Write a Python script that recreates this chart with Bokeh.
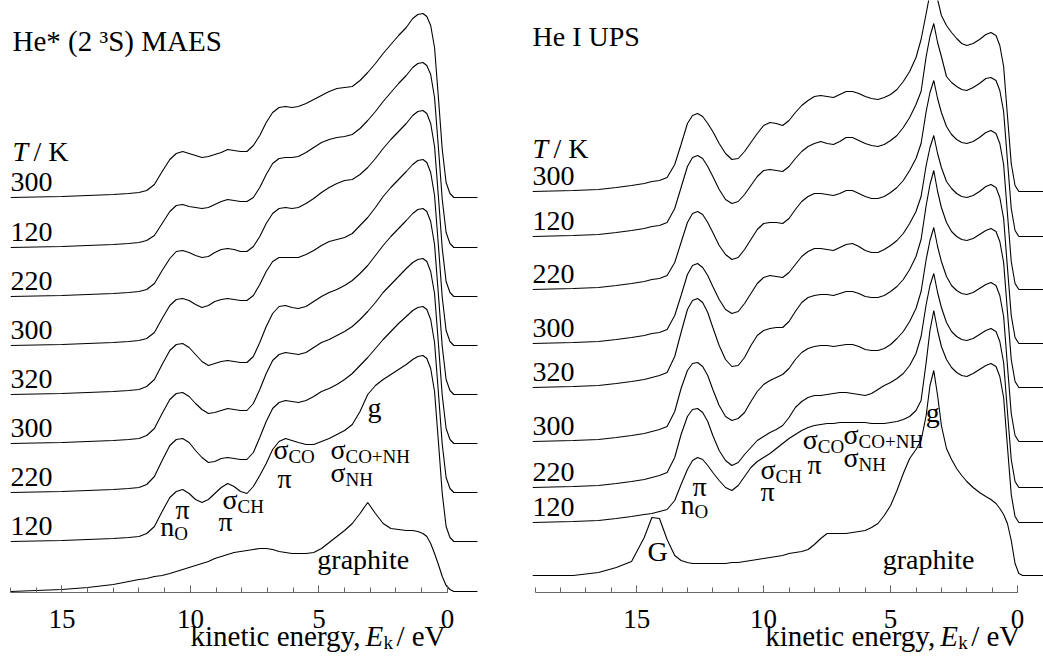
from bokeh.plotting import figure
from bokeh.layouts import row, column
from bokeh.models import Range1d, FixedTicker, Label
from bokeh.embed import file_html
from bokeh.resources import INLINE

FONT = "Liberation Serif"

# ---------------- He* (2 3S) MAES panel ----------------
MAES_E = [17.0, 15.0, 14.0, 13.0,
          12.4, 12.0, 11.7, 11.4, 11.1,
          10.8, 10.55, 10.3, 10.05,
          9.8, 9.55, 9.3, 9.05,
          8.8, 8.55, 8.3, 8.05,
          7.8, 7.55, 7.3, 7.05,
          6.8, 6.55, 6.3, 6.05,
          5.8, 5.5, 5.2, 4.9,
          4.6, 4.3, 4.0, 3.7,
          3.4, 3.1, 2.8, 2.5,
          2.2, 1.9, 1.6, 1.35,
          1.15, 0.95, 0.8, 0.65,
          0.5, 0.35, 0.2, 0.05,
          -0.1, -0.25, -0.5, -1.17]

MAES_T = ["300", "120", "220", "300", "320", "300", "220", "120"]
MAES_BASE = [395, 345, 296, 247, 198, 149, 100, 51]
MAES_GRAPHITE_BASE = 1

maes_1 = [0, 1, 2, 3, 4, 5, 7, 13, 26, 38, 44, 46, 44, 42, 40, 41, 43, 45, 48, 47, 46,
          46, 52, 62, 75, 85, 90, 91, 90, 91, 94, 98, 102, 106, 109, 110, 111,
          117, 125, 134, 144, 153, 162, 170, 179, 183, 184, 181, 172, 150, 100, 48, 15, 4, 0, 0, 0]
maes_2 = [0, 1, 2, 3, 4, 5, 7, 12, 24, 36, 42, 43, 41, 40, 39, 40, 43, 46, 48, 47, 46,
          46, 50, 60, 73, 84, 89, 90, 90, 91, 95, 100, 105, 108, 110, 111, 113,
          119, 127, 136, 146, 155, 164, 172, 180, 184, 185, 182, 173, 150, 100, 48, 15, 4, 0, 0, 0]
maes_3 = [0, 1, 2, 3, 4, 5, 7, 13, 26, 38, 45, 46, 44, 41, 39, 40, 44, 47, 48, 47, 45,
          45, 50, 60, 73, 83, 88, 89, 88, 89, 93, 98, 104, 109, 113, 116, 117,
          122, 129, 138, 148, 157, 165, 173, 181, 185, 186, 183, 173, 150, 100, 48, 15, 4, 0, 0, 0]
maes_4 = [0, 1, 2, 3, 4, 5, 7, 13, 27, 40, 46, 47, 45, 41, 38, 40, 44, 46, 47, 46, 45,
          45, 50, 61, 74, 84, 88, 88, 88, 88, 91, 95, 100, 104, 106, 108, 112,
          120, 128, 138, 149, 158, 166, 174, 181, 185, 186, 183, 173, 150, 100, 48, 15, 4, 0, 0, 0]
maes_5 = [0, 1, 2, 3, 4, 5, 8, 15, 30, 44, 50, 51, 47, 40, 33, 29, 31, 33, 34, 33, 32,
          32, 38, 52, 68, 81, 88, 89, 87, 86, 88, 93, 98, 102, 105, 109, 114,
          121, 129, 139, 149, 158, 166, 174, 181, 185, 186, 183, 173, 150, 100, 48, 15, 4, 0, 0, 0]
maes_6 = [0, 1, 2, 3, 4, 5, 8, 15, 30, 44, 50, 51, 47, 40, 34, 30, 31, 33, 35, 34, 33,
          33, 40, 54, 70, 83, 89, 91, 90, 89, 91, 96, 101, 104, 108, 112, 117,
          124, 132, 141, 151, 159, 167, 175, 181, 184, 185, 182, 172, 150, 100, 48, 15, 4, 0, 0, 0]
maes_7 = [0, 1, 2, 3, 4, 5, 8, 16, 32, 47, 53, 54, 50, 42, 35, 30, 31, 34, 35, 34, 33,
          33, 40, 55, 71, 84, 90, 92, 91, 90, 92, 96, 101, 104, 108, 113, 119,
          127, 135, 144, 153, 161, 169, 176, 182, 185, 186, 183, 173, 150, 100, 48, 15, 4, 0, 0, 0]
maes_8 = [0, 1, 2, 3, 4, 5, 8, 15, 30, 44, 50, 52, 48, 42, 39, 42, 48, 54, 58, 55, 50,
          48, 55, 66, 78, 92, 100, 103, 101, 99, 97, 97, 100, 103, 107, 111, 117,
          130, 147, 156, 162, 167, 172, 177, 182, 185, 186, 183, 173, 150, 100, 48, 15, 4, 0, 0, 0]
maes_graphite = [0, 2, 4, 7, 10, 12, 13, 15, 16, 18, 20, 22, 24, 26, 28, 30, 33, 35, 37, 39, 40,
                 41, 42, 43, 43, 42, 40, 39, 38, 38, 38, 39, 43, 49, 55, 61, 68,
                 78, 89, 78, 68, 63, 62, 61, 61, 60, 58, 55, 48, 38, 27, 15, 6, 2, 0, 0, 0]
MAES_SPECTRA = [maes_1, maes_2, maes_3, maes_4, maes_5, maes_6, maes_7, maes_8]

# ---------------- He I UPS panel ----------------
UPS_E = [19.1, 17.5, 16.5, 15.8,
         15.2, 14.7, 14.4, 14.1,
         13.8, 13.5, 13.25, 13.0,
         12.8, 12.6, 12.4, 12.2,
         12.0, 11.75, 11.5, 11.25,
         11.0, 10.75, 10.5, 10.25,
         10.0, 9.75, 9.5, 9.25,
         9.0, 8.75, 8.5, 8.25,
         8.0, 7.75, 7.5, 7.25,
         7.0, 6.75, 6.5, 6.25,
         6.0, 5.75, 5.5, 5.25,
         5.0, 4.75, 4.5, 4.25,
         4.0, 3.8, 3.6, 3.45,
         3.3, 3.15, 3.0, 2.8,
         2.6, 2.4, 2.2, 2.0,
         1.75, 1.5, 1.25, 1.05,
         0.85, 0.7, 0.55, 0.4,
         0.25, 0.1, -0.05, -0.2,
         -1.02]

UPS_T = ["300", "120", "220", "300", "320", "300", "220", "120"]
UPS_BASE = [401, 356, 303, 249, 205, 151, 105, 70]
UPS_GRAPHITE_BASE = 17

ups_1 = [0, 1, 2, 4, 6, 8, 10, 11, 14, 27, 47, 68, 76, 78, 75, 68, 60, 48, 38, 32,
         33, 40, 49, 58, 66, 69, 68, 66, 71, 79, 86, 91, 95, 96, 95, 94, 97, 100, 100, 98,
         95, 93, 92, 94, 97, 102, 110, 120, 134, 152, 178, 198, 212, 192, 176, 166,
         159, 153, 148, 146, 148, 152, 157, 159, 156, 146, 125, 76, 28, 6, 0, 0, 0]
ups_2 = [0, 1, 2, 4, 6, 8, 10, 11, 14, 28, 49, 70, 79, 81, 78, 70, 60, 47, 37, 33,
         35, 42, 51, 60, 66, 67, 66, 65, 70, 78, 85, 90, 93, 95, 93, 92, 95, 99, 99, 96,
         93, 91, 90, 92, 96, 101, 109, 119, 132, 145, 180, 200, 213, 194, 180, 160,
         154, 150, 147, 146, 149, 153, 158, 159, 156, 146, 125, 76, 28, 6, 0, 0, 0]
ups_3 = [0, 1, 2, 4, 6, 8, 10, 11, 14, 27, 47, 67, 76, 78, 75, 67, 57, 44, 35, 30,
         32, 40, 50, 60, 66, 67, 67, 66, 71, 80, 88, 93, 96, 96, 95, 94, 96, 99, 99, 96,
         93, 91, 91, 93, 97, 102, 109, 119, 131, 146, 178, 197, 209, 191, 177, 163,
         155, 150, 147, 146, 148, 152, 157, 159, 156, 146, 125, 76, 28, 6, 0, 0, 0]
ups_4 = [0, 1, 2, 4, 6, 8, 10, 11, 14, 28, 48, 69, 78, 80, 76, 68, 57, 44, 34, 30,
         32, 40, 50, 60, 66, 68, 67, 66, 71, 79, 87, 92, 95, 95, 94, 93, 96, 99, 100, 97,
         93, 91, 91, 94, 98, 103, 110, 120, 132, 147, 178, 196, 208, 190, 176, 162,
         155, 150, 147, 146, 148, 152, 157, 159, 156, 146, 125, 76, 28, 6, 0, 0, 0]
ups_5 = [0, 1, 2, 4, 6, 8, 10, 12, 15, 31, 55, 78, 87, 89, 85, 75, 60, 42, 28, 21,
         22, 30, 42, 52, 57, 59, 60, 60, 66, 76, 85, 90, 92, 93, 93, 92, 94, 96, 96, 94,
         91, 90, 90, 92, 96, 101, 108, 118, 131, 148, 182, 203, 217, 196, 180, 165,
         156, 151, 148, 147, 149, 153, 157, 159, 156, 146, 125, 76, 28, 6, 0, 0, 0]
ups_6 = [0, 1, 2, 4, 6, 8, 10, 12, 15, 30, 53, 71, 78, 79, 75, 66, 52, 36, 25, 21,
         23, 29, 40, 50, 57, 61, 64, 67, 73, 82, 89, 93, 95, 96, 96, 95, 96, 97, 97, 95,
         92, 91, 91, 93, 97, 103, 110, 120, 133, 150, 182, 201, 214, 195, 180, 165,
         156, 151, 148, 147, 149, 153, 157, 159, 156, 146, 125, 76, 28, 6, 0, 0, 0]
ups_7 = [0, 1, 2, 4, 6, 8, 10, 12, 15, 30, 53, 71, 78, 79, 75, 66, 52, 37, 27, 22,
         25, 33, 40, 47, 51, 55, 58, 62, 70, 80, 86, 90, 92, 92, 93, 94, 95, 95, 94, 93,
         92, 94, 98, 102, 105, 109, 114, 122, 134, 151, 183, 202, 214, 195, 180, 165,
         156, 151, 148, 147, 149, 153, 157, 159, 156, 146, 125, 76, 28, 6, 0, 0, 0]
ups_8 = [0, 1, 2, 4, 6, 8, 9, 11, 13, 22, 38, 53, 62, 65, 63, 57, 50, 42, 35, 32,
         37, 46, 55, 61, 65, 69, 74, 79, 84, 88, 92, 95, 97, 98, 99, 99, 100, 100, 100, 100,
         100, 99, 99, 99, 100, 101, 103, 106, 112, 122, 160, 192, 212, 192, 176, 163,
         155, 150, 147, 146, 149, 153, 157, 159, 156, 146, 125, 76, 28, 6, 0, 0, 0]
ups_graphite = [0, 0, 3, 8, 14, 38, 58, 57, 36, 20, 15, 13, 12, 12, 12, 12, 12, 12, 12, 13,
                13, 14, 15, 16, 17, 18, 19, 20, 22, 23, 24, 26, 31, 37, 42, 42, 42, 42, 43, 44,
                45, 48, 52, 60, 70, 85, 102, 117, 126, 135, 160, 190, 205, 180, 150, 127,
                116, 107, 100, 94, 88, 83, 79, 76, 72, 67, 61, 52, 35, 12, 2, 0, 0]
UPS_SPECTRA = [ups_1, ups_2, ups_3, ups_4, ups_5, ups_6, ups_7, ups_8]

MAJOR_TICKS = [0, 5, 10, 15]
LINE_W = 1.1
MAIN_H = 657
FRAME_H = 592
STRIP_H = 40


def make_fig(width, border_left, border_right, xr, axis_max):
    p = figure(width=width, height=MAIN_H, x_range=xr, y_range=Range1d(0, FRAME_H),
               output_backend="svg", toolbar_location=None, title=None,
               min_border_left=border_left, min_border_right=border_right,
               min_border_top=0, min_border_bottom=MAIN_H - FRAME_H, y_axis_type=None)
    p.grid.visible = False
    p.outline_line_color = None
    ax = p.xaxis[0]
    ax.bounds = (0, axis_max)
    ax.ticker = FixedTicker(ticks=MAJOR_TICKS, minor_ticks=list(range(0, axis_max + 1)))
    ax.axis_line_color = "#666666"
    ax.axis_line_width = 1
    ax.major_tick_in = 7
    ax.major_tick_out = 0
    ax.minor_tick_in = 5
    ax.minor_tick_out = 0
    ax.major_tick_line_color = "#555555"
    ax.minor_tick_line_color = "#666666"
    ax.major_label_text_font = FONT
    ax.major_label_text_font_size = "27px"
    ax.major_label_text_color = "black"
    ax.major_label_standoff = 17
    return p


def make_strip(width, border_left, border_right, xr):
    # transparent strip laid over the bottom of the panel, holding the axis title
    s = figure(width=width, height=STRIP_H, x_range=xr, y_range=Range1d(0, STRIP_H),
               output_backend="svg", toolbar_location=None, title=None,
               min_border_left=border_left, min_border_right=border_right,
               min_border_top=0, min_border_bottom=0, x_axis_type=None, y_axis_type=None,
               margin=(-STRIP_H, 0, 0, 0))
    s.grid.visible = False
    s.outline_line_color = None
    s.background_fill_color = None
    s.border_fill_color = None
    return s


def lab(p, x, y, text, size=28, style="normal", align="left", xoff=0, yoff=0):
    # small upward correction so that the glyph baseline lands on y
    p.add_layout(Label(x=x, y=y, text=text, text_font=FONT, text_font_size=f"{size}px",
                       text_font_style=style, text_align=align, text_baseline="alphabetic",
                       x_offset=xoff, y_offset=yoff + round(0.32 * size), text_color="black"))


def sub(p, x, y, main, subtext, main_w=15, size=28, subsize=19):
    lab(p, x, y, main, size=size)
    lab(p, x, y, subtext, size=subsize, xoff=main_w, yoff=-4)


def draw(p, energies, spectra, bases, gbase, graphite, temps, x_left):
    for vals, b, t in zip(spectra, bases, temps):
        p.line(energies, [b + v for v in vals], line_color="black", line_width=LINE_W)
        lab(p, x_left, b + 7, t, size=28)
    p.line(energies, [gbase + v for v in graphite], line_color="black", line_width=LINE_W)


def axis_title(s, x_e):
    # x_e: energy where the italic E starts; other pieces placed by pixel offsets
    lab(s, x_e, 13, "kinetic energy,", size=29, align="right", xoff=-5)
    lab(s, x_e, 13, "E", size=29, style="italic")
    lab(s, x_e, 9, "k", size=19, xoff=18)
    lab(s, x_e, 13, "/ eV", size=29, xoff=31)


# ---- left panel ----
xr1 = Range1d(17.0, -1.288)
p1 = make_fig(515, 10, 35, xr1, 17)
s1 = make_strip(515, 10, 35, xr1)
draw(p1, MAES_E, MAES_SPECTRA, MAES_BASE, MAES_GRAPHITE_BASE, maes_graphite, MAES_T, 17.0)
lab(p1, 17.0, 543, "He* (2 ³S) MAES", size=29, xoff=2)
lab(p1, 17.0, 432, "T", size=28, style="italic", xoff=2)
lab(p1, 17.0, 432, "/ K", size=28, xoff=23)
lab(p1, 3.11, 176, "g")
sub(p1, 6.77, 134, "σ", "CO")
lab(p1, 6.61, 105, "π")
sub(p1, 4.55, 134, "σ", "CO+NH")
sub(p1, 4.55, 111, "σ", "NH")
sub(p1, 8.75, 84, "σ", "CH")
lab(p1, 8.91, 62, "π")
lab(p1, 10.58, 74, "π")
sub(p1, 11.17, 57, "n", "O", main_w=14)
lab(p1, 5.06, 24, "graphite")
axis_title(s1, 3.19)

# ---- right panel ----
xr2 = Range1d(19.1, -1.02)
p2 = make_fig(528, 17, 0, xr2, 19)
s2 = make_strip(528, 17, 0, xr2)
draw(p2, UPS_E, UPS_SPECTRA, UPS_BASE, UPS_GRAPHITE_BASE, ups_graphite, UPS_T, 19.1)
lab(p2, 19.1, 547, "He I UPS", size=28)
lab(p2, 19.1, 435, "T", size=28, style="italic")
lab(p2, 19.1, 435, "/ K", size=28, xoff=21)
lab(p2, 14.57, 32, "G")
lab(p2, 12.8, 97, "π")
sub(p2, 13.27, 79, "n", "O", main_w=14)
sub(p2, 10.12, 114, "σ", "CH")
lab(p2, 10.12, 92, "π")
sub(p2, 8.46, 144, "σ", "CO")
lab(p2, 8.27, 119, "π")
sub(p2, 6.85, 149, "σ", "CO+NH")
sub(p2, 6.85, 126, "σ", "NH")
lab(p2, 3.62, 171, "g")
lab(p2, 5.31, 24, "graphite")
axis_title(s2, 3.05)

layout = row(column(p1, s1), column(p2, s2))
open("out.html", "w").write(file_html(layout, INLINE))
